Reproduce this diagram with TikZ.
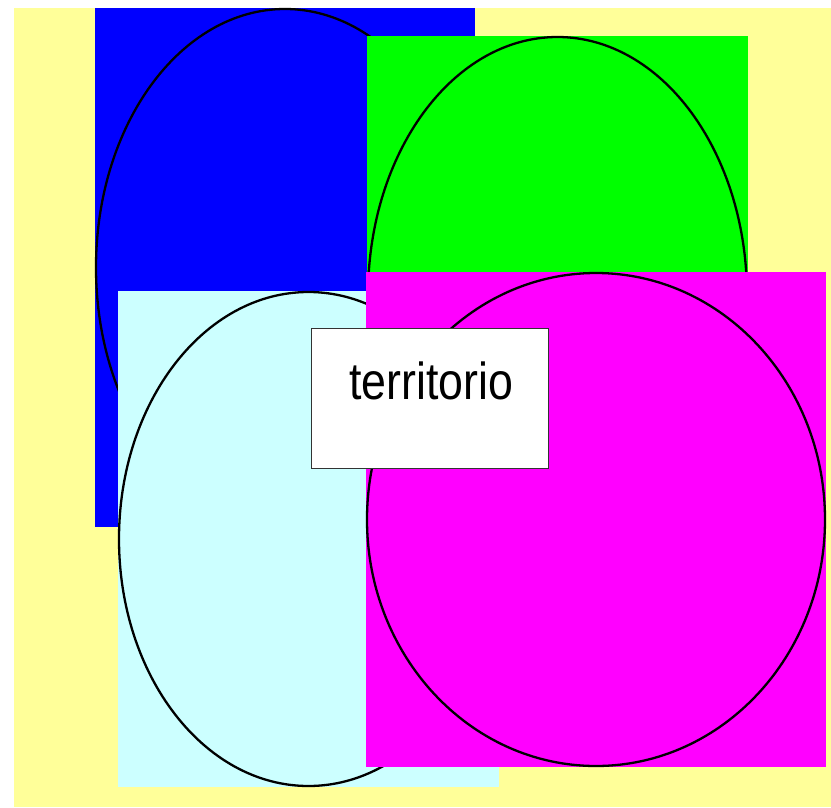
\documentclass[tikz,border=0pt]{standalone}
\usepackage{fontspec}
\setmainfont{Liberation Sans}
\definecolor{bgyellow}{HTML}{FFFF99}
\definecolor{cyanlight}{HTML}{CCFFFF}
\definecolor{pureblue}{HTML}{0000FF}
\definecolor{puregreen}{HTML}{00FF00}
\definecolor{puremagenta}{HTML}{FF00FF}
\begin{document}
\begin{tikzpicture}[x=1pt,y=-1pt,
  outline/.style={draw=black,line width=2.3pt},
  labelbox/.style={draw=black!80,line width=1pt,fill=white}]
\useasboundingbox (0,0) rectangle (831,807);
% background
\fill[bgyellow] (14,8) rectangle (831,807);
% blue
\fill[pureblue] (95,8) rectangle (475,527);
\draw[outline] (285,267.5) ellipse [x radius=189, y radius=258.5];
% green
\fill[puregreen] (367,36) rectangle (748,555);
\draw[outline] (557.5,295.5) ellipse [x radius=189.5, y radius=258.5];
% light cyan
\fill[cyanlight] (118,291) rectangle (499,787);
\draw[outline] (308.5,539) ellipse [x radius=189.5, y radius=247];
% magenta
\fill[puremagenta] (366,272) rectangle (826,767);
\draw[outline] (596,519.5) ellipse [x radius=229, y radius=246.5];
% label
\draw[labelbox] (311,328) rectangle (548.5,468);
\node[anchor=base,inner sep=0pt,font=\fontsize{52}{60}\selectfont] (lbl) at (431.5,399) {\scalebox{0.86}[1]{territorio}};
\end{tikzpicture}
\end{document}
